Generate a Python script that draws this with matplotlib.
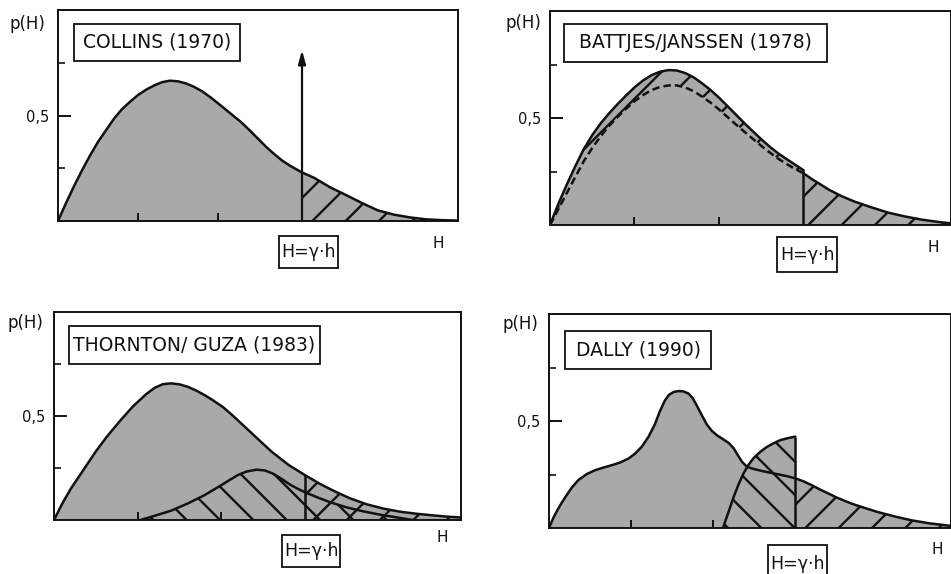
import matplotlib
matplotlib.use("Agg")
import matplotlib.pyplot as plt
from matplotlib.patches import Rectangle

FIG_W, FIG_H = 951, 574
plt.rcParams['font.family'] = ['DejaVu Sans']
plt.rcParams['hatch.linewidth'] = 1.7

FILL = '#a9a9a9'
INK = '#111111'

# ---------------- data ----------------
# Collins (1970): full distribution, cut at H = gamma*h
collins_h = [0, 0.1, 0.2, 0.3, 0.4, 0.5, 0.6, 0.7, 0.8, 0.9, 1.0, 1.1, 1.2, 1.3, 1.4,
             1.5, 1.6, 1.7, 1.8, 1.9, 2.0, 2.1, 2.2, 2.3, 2.4, 2.5, 2.6, 2.7, 2.8, 2.9,
             3.05, 3.2, 3.4, 3.6, 3.8, 4.0, 4.2, 4.4, 4.6, 4.8, 5.0]
collins_p = [0, 0.085, 0.165, 0.24, 0.31, 0.375, 0.43, 0.485, 0.53, 0.565, 0.597,
             0.622, 0.642, 0.658, 0.665, 0.662, 0.652, 0.636, 0.615, 0.588, 0.558,
             0.527, 0.496, 0.465, 0.428, 0.39, 0.352, 0.318, 0.287, 0.262, 0.23,
             0.205, 0.16, 0.123, 0.085, 0.05, 0.03, 0.017, 0.008, 0.004, 0.002]
collins_break = 3.05
collins_arrow_top = 0.81

# Battjes/Janssen (1978): solid and dashed curves up to the break, tail beyond
bj_h = [0, 0.1, 0.2, 0.3, 0.4, 0.5, 0.6, 0.7, 0.8, 0.9, 1.0, 1.1, 1.2, 1.3, 1.4, 1.5,
        1.6, 1.7, 1.8, 1.9, 2.0, 2.1, 2.2, 2.3, 2.4, 2.5, 2.6, 2.7, 2.8, 2.9, 3.0]
bj_solid = [0, 0.1, 0.19, 0.275, 0.355, 0.42, 0.475, 0.522, 0.565, 0.605, 0.643,
            0.675, 0.70, 0.716, 0.724, 0.722, 0.71, 0.69, 0.662, 0.631, 0.595, 0.556,
            0.516, 0.476, 0.438, 0.401, 0.366, 0.335, 0.308, 0.282, 0.256]
bj_dashed = [0, 0.075, 0.15, 0.225, 0.298, 0.36, 0.415, 0.463, 0.505, 0.543, 0.578,
             0.607, 0.63, 0.645, 0.652, 0.652, 0.643, 0.625, 0.6, 0.572, 0.54, 0.505,
             0.47, 0.436, 0.403, 0.37, 0.339, 0.31, 0.285, 0.262, 0.242]
bj_tail_h = [3.0, 3.1, 3.2, 3.3, 3.45, 3.6, 3.8, 4.0, 4.2, 4.4, 4.6, 4.74]
bj_tail_p = [0.242, 0.214, 0.19, 0.165, 0.135, 0.11, 0.083, 0.058, 0.04, 0.025, 0.014, 0.008]
bj_break = 3.0

# Thornton/Guza (1983): wave height distribution and breaking-wave distribution
tg_h = [0, 0.1, 0.2, 0.35, 0.5, 0.63, 0.8, 0.94, 1.1, 1.2, 1.3, 1.4, 1.5, 1.6, 1.7,
        1.8, 1.9, 2.02, 2.14, 2.3, 2.46, 2.6, 2.8, 3.0, 3.17, 3.34, 3.53, 3.73, 3.93,
        4.13, 4.33, 4.53, 4.7, 4.86]
tg_p = [0, 0.08, 0.15, 0.24, 0.33, 0.40, 0.482, 0.545, 0.605, 0.635, 0.653, 0.657,
        0.652, 0.64, 0.622, 0.60, 0.575, 0.542, 0.50, 0.44, 0.38, 0.328, 0.265, 0.215,
        0.175, 0.14, 0.105, 0.076, 0.055, 0.04, 0.03, 0.022, 0.016, 0.012]
tg_brk_h = [1.03, 1.2, 1.4, 1.6, 1.8, 2.0, 2.1, 2.2, 2.3, 2.42, 2.52, 2.62, 2.72, 2.82,
            2.92, 3.0, 3.15, 3.3, 3.5, 3.7, 3.9, 4.1, 4.28]
tg_brk_p = [0.0, 0.02, 0.045, 0.08, 0.12, 0.168, 0.193, 0.217, 0.233, 0.242, 0.238,
            0.222, 0.197, 0.17, 0.148, 0.133, 0.108, 0.085, 0.06, 0.041, 0.025, 0.012, 0.0]
tg_break = 3.0

# Dally (1990): wave height distribution and breaking-wave distribution
dally_h = [0, 0.05, 0.1, 0.15, 0.2, 0.28, 0.36, 0.46, 0.56, 0.66, 0.76, 0.86, 0.97,
           1.05, 1.13, 1.21, 1.29, 1.35, 1.41, 1.46, 1.52, 1.58, 1.64, 1.70, 1.75,
           1.80, 1.86, 1.92, 1.98, 2.05, 2.12, 2.19, 2.25, 2.30, 2.35, 2.41, 2.5, 2.6,
           2.7, 2.8, 2.9, 3.0, 3.1, 3.2, 3.3, 3.41, 3.5, 3.6, 3.7, 3.81, 4.0, 4.22,
           4.4, 4.63, 4.89]
dally_p = [0, 0.045, 0.082, 0.115, 0.145, 0.19, 0.225, 0.252, 0.27, 0.282, 0.293,
           0.305, 0.325, 0.348, 0.38, 0.425, 0.485, 0.545, 0.595, 0.622, 0.636, 0.64,
           0.638, 0.628, 0.607, 0.572, 0.528, 0.485, 0.455, 0.432, 0.415, 0.397, 0.372,
           0.34, 0.31, 0.286, 0.275, 0.266, 0.258, 0.25, 0.242, 0.232, 0.218, 0.2,
           0.18, 0.16, 0.143, 0.127, 0.112, 0.098, 0.075, 0.053, 0.037, 0.022, 0.01]
dally_brk_h = [2.12, 2.15, 2.2, 2.25, 2.31, 2.37, 2.43, 2.49, 2.57, 2.65, 2.74, 2.82,
               2.91, 3.0]
dally_brk_p = [0, 0.035, 0.09, 0.146, 0.205, 0.256, 0.295, 0.326, 0.355, 0.378, 0.397,
               0.411, 0.42, 0.427]
dally_break = 3.0

titles = ['COLLINS (1970)', 'BATTJES/JANSSEN (1978)', 'THORNTON/ GUZA (1983)', 'DALLY (1990)']
y_label = 'p(H)'
x_label = 'H'
break_label = 'H=γ·h'

# ---------------- figure ----------------
fig = plt.figure(figsize=(FIG_W / 100, FIG_H / 100), dpi=100)


def fx(x):
    return x / FIG_W


def fy(y):
    return 1 - y / FIG_H


def px_axes(l, t, r, b):
    return fig.add_axes([fx(l), fy(b), (r - l) / FIG_W, (b - t) / FIG_H])


def boxed(x0, y0, x1, y1, text, size, ty=None):
    fig.patches.append(Rectangle((fx(x0), fy(y1)), fx(x1) - fx(x0), fy(y0) - fy(y1),
                                 transform=fig.transFigure, fill=False, lw=1.3, ec=INK))
    cy = (y0 + y1) / 2 if ty is None else ty
    fig.text(fx((x0 + x1) / 2), fy(cy), text, ha='center', va='center',
             fontsize=size, color=INK)


def style(ax, xmax):
    ax.set_xlim(0, xmax)
    ax.set_ylim(0, 1)
    for s in ax.spines.values():
        s.set_linewidth(1.4)
        s.set_color(INK)
    ax.set_xticks([1, 2])
    ax.set_xticklabels([])
    ax.set_yticks([0.5])
    ax.set_yticklabels(['0,5'])
    ax.set_yticks([0.25, 0.75], minor=True)
    ax.tick_params(axis='y', which='major', direction='in', length=9, width=1.4,
                   labelsize=10.5, pad=6, colors=INK)
    ax.tick_params(axis='y', which='minor', direction='in', length=5, width=1.2, colors=INK)
    ax.tick_params(axis='x', which='major', direction='in', length=6, width=1.4, colors=INK)
    ax.tick_params(axis='x', which='minor', length=0)


def gray(ax, x, y1, y0=0, where=None):
    ax.fill_between(x, y0, y1, where=where, facecolor=FILL, lw=0, zorder=1)


def hatch(ax, x, y1, pattern, y0=0, where=None):
    ax.fill_between(x, y0, y1, where=where, facecolor='none', edgecolor=INK,
                    hatch=pattern, lw=0, zorder=2)


def outline(ax, x, y, **kw):
    ax.plot(x, y, color=INK, lw=1.8, zorder=4, solid_capstyle='round',
            solid_joinstyle='round', **kw)


# --- Collins ---
ax1 = px_axes(58, 10, 458, 221)
style(ax1, 5.0)
gray(ax1, collins_h, collins_p)
hatch(ax1, collins_h, collins_p, '/', where=[h >= collins_break for h in collins_h])
outline(ax1, collins_h, collins_p)
ax1.annotate('', xy=(collins_break, collins_arrow_top), xytext=(collins_break, 0),
             arrowprops=dict(arrowstyle='-|>,head_width=0.22,head_length=0.8',
                             lw=1.6, color=INK, shrinkA=0, shrinkB=0), zorder=5)

# --- Battjes/Janssen ---
ax2 = px_axes(550, 11, 950.5, 225)
style(ax2, 4.74)
gray(ax2, bj_h, bj_solid)
hatch(ax2, bj_h, bj_solid, '/', y0=bj_dashed)
gray(ax2, bj_tail_h, bj_tail_p)
hatch(ax2, bj_tail_h, bj_tail_p, '/')
outline(ax2, bj_h, bj_solid)
outline(ax2, bj_h, bj_dashed, linestyle=(0, (3, 1.6)))
outline(ax2, bj_tail_h, bj_tail_p)
ax2.vlines(bj_break, 0, bj_solid[-1], color=INK, lw=1.8, zorder=4)

# --- Thornton/Guza ---
ax3 = px_axes(54, 312, 461, 520)
style(ax3, 4.86)
gray(ax3, tg_h, tg_p)
hatch(ax3, tg_brk_h, tg_brk_p, '\\')
hatch(ax3, tg_h, tg_p, '/', where=[h >= tg_break for h in tg_h])
outline(ax3, tg_h, tg_p)
outline(ax3, tg_brk_h, tg_brk_p)
ax3.vlines(tg_break, 0, tg_p[tg_h.index(tg_break)], color=INK, lw=1.8, zorder=4)

# --- Dally ---
ax4 = px_axes(549, 314, 950.5, 528)
style(ax4, 4.89)
gray(ax4, dally_h, dally_p)
gray(ax4, dally_brk_h, dally_brk_p)
hatch(ax4, dally_brk_h, dally_brk_p, '\\')
hatch(ax4, dally_h, dally_p, '/', where=[h >= dally_break for h in dally_h])
outline(ax4, dally_h, dally_p)
outline(ax4, dally_brk_h, dally_brk_p)
ax4.vlines(dally_break, 0, dally_brk_p[-1], color=INK, lw=1.8, zorder=4)

# ---------------- labels ----------------
for (px, py) in [(27, 24), (523, 23), (25, 323), (520, 324)]:
    fig.text(fx(px), fy(py), y_label, ha='center', va='center', fontsize=12, color=INK)
for (px, py) in [(438, 243), (933, 247), (442, 538), (937, 550)]:
    fig.text(fx(px), fy(py), x_label, ha='center', va='center', fontsize=11, color=INK)

boxed(74, 24, 240, 61, titles[0], 13.5)
boxed(564, 24, 827, 62, titles[1], 13.5)
boxed(69, 326, 320, 364, titles[2], 13.5)
boxed(565, 331, 711, 369, titles[3], 13.5)

boxed(279, 236, 338, 268, break_label, 12.5)
boxed(777, 237, 837, 272, break_label, 12.5)
boxed(282, 535, 340, 567, break_label, 12.5)
boxed(768, 545, 827, 600, break_label, 12.5, ty=564)

fig.savefig('out.png', dpi=100)
